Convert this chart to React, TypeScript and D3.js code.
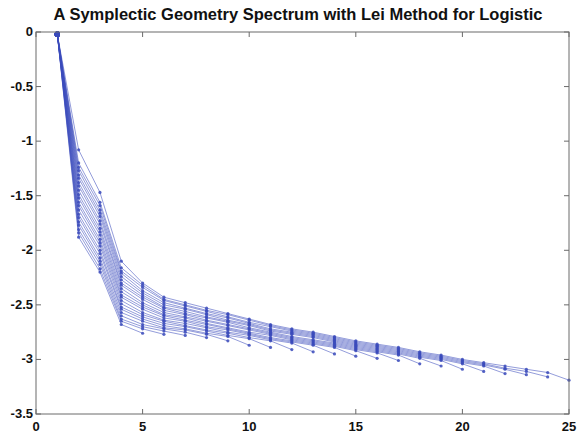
import React from "react";
import * as d3 from "d3";

// Normalized symplectic geometry spectra (log10), one array per embedding dimension d = 5..25
const spectrumD5 = [-0.02, -1.88, -2.20, -2.68, -2.76];
const spectrumD6 = [-0.02, -1.84, -2.17, -2.65, -2.72, -2.77];
const spectrumD7 = [-0.02, -1.81, -2.13, -2.63, -2.70, -2.74, -2.78];
const spectrumD8 = [-0.02, -1.77, -2.10, -2.60, -2.68, -2.72, -2.75, -2.80];
const spectrumD9 = [-0.02, -1.74, -2.07, -2.57, -2.65, -2.71, -2.73, -2.77, -2.83];
const spectrumD10 = [-0.02, -1.70, -2.03, -2.54, -2.63, -2.69, -2.72, -2.76, -2.79, -2.87];
const spectrumD11 = [-0.02, -1.67, -2.00, -2.52, -2.61, -2.67, -2.70, -2.74, -2.78, -2.81, -2.89];
const spectrumD12 = [-0.02, -1.63, -1.96, -2.49, -2.59, -2.65, -2.69, -2.73, -2.76, -2.80, -2.83, -2.91];
const spectrumD13 = [-0.02, -1.59, -1.93, -2.46, -2.57, -2.64, -2.67, -2.71, -2.75, -2.78, -2.82, -2.85, -2.93];
const spectrumD14 = [-0.02, -1.56, -1.90, -2.43, -2.54, -2.62, -2.65, -2.70, -2.73, -2.77, -2.81, -2.84, -2.87, -2.95];
const spectrumD15 = [-0.02, -1.52, -1.86, -2.41, -2.52, -2.60, -2.64, -2.68, -2.72, -2.76, -2.80, -2.83, -2.86, -2.89, -2.97];
const spectrumD16 = [-0.02, -1.49, -1.83, -2.38, -2.50, -2.59, -2.62, -2.67, -2.71, -2.75, -2.78, -2.82, -2.85, -2.88, -2.92, -2.99];
const spectrumD17 = [-0.02, -1.45, -1.80, -2.35, -2.48, -2.57, -2.61, -2.65, -2.69, -2.73, -2.77, -2.81, -2.84, -2.87, -2.91, -2.94, -3.01];
const spectrumD18 = [-0.02, -1.41, -1.76, -2.32, -2.45, -2.55, -2.59, -2.64, -2.68, -2.72, -2.76, -2.80, -2.83, -2.86, -2.90, -2.93, -2.96, -3.04];
const spectrumD19 = [-0.02, -1.38, -1.73, -2.30, -2.43, -2.53, -2.58, -2.62, -2.66, -2.71, -2.75, -2.79, -2.82, -2.85, -2.89, -2.92, -2.95, -2.99, -3.06];
const spectrumD20 = [-0.02, -1.34, -1.69, -2.27, -2.41, -2.52, -2.56, -2.61, -2.65, -2.69, -2.74, -2.77, -2.80, -2.84, -2.88, -2.91, -2.94, -2.98, -3.01, -3.09];
const spectrumD21 = [-0.02, -1.31, -1.66, -2.24, -2.39, -2.50, -2.54, -2.59, -2.64, -2.68, -2.73, -2.76, -2.79, -2.83, -2.87, -2.90, -2.93, -2.97, -3.00, -3.04, -3.11];
const spectrumD22 = [-0.02, -1.27, -1.63, -2.21, -2.37, -2.48, -2.53, -2.58, -2.62, -2.67, -2.72, -2.75, -2.78, -2.82, -2.86, -2.89, -2.92, -2.96, -2.99, -3.03, -3.06, -3.13];
const spectrumD23 = [-0.02, -1.24, -1.59, -2.19, -2.34, -2.46, -2.51, -2.56, -2.61, -2.66, -2.70, -2.74, -2.77, -2.81, -2.85, -2.88, -2.91, -2.95, -2.98, -3.02, -3.05, -3.09, -3.14];
const spectrumD24 = [-0.02, -1.20, -1.56, -2.16, -2.32, -2.45, -2.50, -2.55, -2.59, -2.64, -2.69, -2.73, -2.76, -2.80, -2.84, -2.87, -2.90, -2.94, -2.97, -3.01, -3.04, -3.08, -3.11, -3.16];
const spectrumD25 = [-0.02, -1.08, -1.47, -2.10, -2.30, -2.43, -2.48, -2.53, -2.58, -2.63, -2.68, -2.72, -2.75, -2.79, -2.83, -2.86, -2.89, -2.93, -2.96, -3.00, -3.03, -3.06, -3.09, -3.12, -3.19];

const spectra = [
  spectrumD5, spectrumD6, spectrumD7, spectrumD8, spectrumD9, spectrumD10, spectrumD11,
  spectrumD12, spectrumD13, spectrumD14, spectrumD15, spectrumD16, spectrumD17, spectrumD18,
  spectrumD19, spectrumD20, spectrumD21, spectrumD22, spectrumD23, spectrumD24, spectrumD25,
];

const xTicks = [0, 5, 10, 15, 20, 25];
const yTicks = [0, -0.5, -1, -1.5, -2, -2.5, -3, -3.5];
const title = "A Symplectic Geometry Spectrum with Lei Method for Logistic";

const W = 581;
const H = 438;
const plot = { left: 36, right: 569, top: 32, bottom: 414 };
const lineColor = "#3a4abb";
const axisColor = "#6a6a6a";
const font = "'Liberation Sans', Arial, sans-serif";

export default function App() {
  const x = d3.scaleLinear().domain([0, 25]).range([plot.left, plot.right]);
  const y = d3.scaleLinear().domain([-3.5, 0]).range([plot.bottom, plot.top]);
  const line = d3
    .line<number>()
    .x((_, i) => x(i + 1))
    .y((v) => y(v));
  const tick = 5;

  return (
    <svg
      width={W}
      height={H}
      viewBox={`0 0 ${W} ${H}`}
      style={{ position: "absolute", left: 0, top: 0, background: "#fff" }}
    >
      <rect x={0} y={0} width={W} height={H} fill="#fff" />
      <text
        x={298}
        y={20}
        textAnchor="middle"
        fontFamily={font}
        fontWeight="bold"
        fontSize={16.5}
        fill="#111"
      >
        {title}
      </text>

      {/* spectrum curves */}
      <g>
        {spectra.map((s, k) => (
          <path
            key={`l${k}`}
            d={line(s) ?? ""}
            fill="none"
            stroke={lineColor}
            strokeOpacity={0.65}
            strokeWidth={0.85}
          />
        ))}
        {spectra.map((s, k) =>
          s.map((v, i) => (
            <circle
              key={`p${k}-${i}`}
              cx={x(i + 1)}
              cy={y(v)}
              r={i === 0 ? 2.6 : 1.6}
              fill={lineColor}
              fillOpacity={0.85}
            />
          ))
        )}
      </g>

      {/* axes box with inward ticks */}
      <rect
        x={plot.left}
        y={plot.top}
        width={plot.right - plot.left}
        height={plot.bottom - plot.top}
        fill="none"
        stroke={axisColor}
        strokeWidth={1}
      />
      {xTicks.map((t) => (
        <g key={`xt${t}`}>
          <line x1={x(t)} x2={x(t)} y1={plot.bottom} y2={plot.bottom - tick} stroke={axisColor} />
          <line x1={x(t)} x2={x(t)} y1={plot.top} y2={plot.top + tick} stroke={axisColor} />
          <text
            x={x(t)}
            y={431}
            textAnchor="middle"
            fontFamily={font}
            fontWeight="bold"
            fontSize={13}
            fill="#111"
          >
            {t}
          </text>
        </g>
      ))}
      {yTicks.map((t) => (
        <g key={`yt${t}`}>
          <line x1={plot.left} x2={plot.left + tick} y1={y(t)} y2={y(t)} stroke={axisColor} />
          <line x1={plot.right} x2={plot.right - tick} y1={y(t)} y2={y(t)} stroke={axisColor} />
          <text
            x={plot.left - 3}
            y={y(t) + 4}
            textAnchor="end"
            fontFamily={font}
            fontWeight="bold"
            fontSize={13}
            fill="#111"
          >
            {t}
          </text>
        </g>
      ))}
    </svg>
  );
}
